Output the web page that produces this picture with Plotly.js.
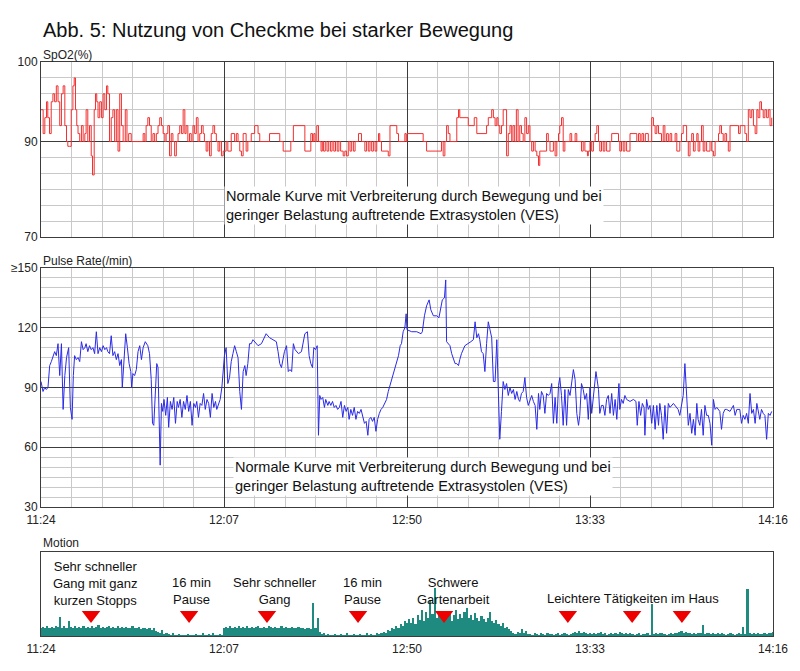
<!DOCTYPE html>
<html>
<head>
<meta charset="utf-8">
<script src="https://cdn.plot.ly/plotly-3.0.1.min.js"></script>
<style>html,body{margin:0;padding:0;background:#fff;}#chart{width:800px;height:671px;}</style>
</head>
<body>
<div id="chart"></div>
<script>
// ---- DATA (minutes after 11:24) ----
const timeTickMinutes = [0, 43, 86, 129, 172];
const timeTickLabels = ['11:24', '12:07', '12:50', '13:33', '14:16'];

const spo2TickValues = [70, 90, 100];
const spo2TickLabels = ['70', '90', '100'];
const pulseTickValues = [30, 60, 90, 120, 150];
const pulseTickLabels = ['30', '60', '90', '120', '≥150'];

const spo2Time = [
 0,0.5,0.9,1.3,1.6,2.0,2.4,2.8,3.2,3.6,
 4.0,4.4,4.8,5.2,5.6,6.0,6.3,6.7,7.1,7.5,
 7.8,8.1,8.4,8.7,9.1,9.5,9.9,10.3,10.6,11.0,
 11.4,11.8,12.1,12.5,12.8,13.1,13.4,13.8,14.2,14.6,
 15.0,15.4,15.7,16.1,16.5,16.9,17.3,17.7,18.1,18.5,
 18.9,19.3,19.8,20.2,20.6,21.2,24.0,24.4,24.7,25.1,
 25.5,25.9,26.3,26.7,27.1,27.5,27.9,28.3,28.7,29.1,
 29.4,29.8,30.2,30.6,31.0,31.4,31.8,32.2,32.6,33.0,
 33.4,33.8,34.1,34.5,34.9,35.3,35.7,36.1,36.5,36.9,
 37.3,37.7,38.1,38.4,38.8,39.2,39.6,40.0,40.4,40.8,
 41.2,41.6,42.0,42.4,42.8,43.5,43.9,44.7,45.5,45.9,
 46.3,46.7,47.1,47.5,48.2,48.6,49.4,50.2,51.0,51.4,
 53.7,56.1,56.9,58.7,59.3,62.0,63.4,63.8,64.1,64.4,
 64.8,65.2,65.8,66.1,66.4,66.8,67.2,67.6,68.0,68.4,
 68.8,69.2,69.6,70.0,70.4,71.0,71.4,71.8,72.2,72.6,
 73.0,73.4,73.8,74.6,75.3,76.1,76.5,76.9,77.3,77.7,
 78.1,78.5,78.9,79.3,79.6,80.0,81.6,82.0,83.6,84.0,
 85.5,85.8,86.0,89.8,90.6,94.1,94.5,94.9,95.3,95.7,
 96.1,97.7,98.1,98.4,100.4,101.8,102.4,104.7,105.1,105.9,
 106.3,106.7,107.1,107.4,107.8,108.2,108.6,109.4,109.8,110.2,
 110.6,110.9,111.3,111.7,112.1,112.5,112.9,113.3,113.7,114.1,
 114.5,114.9,115.3,115.7,116.1,116.5,116.9,117.2,118.8,119.2,
 119.6,120.4,120.8,121.2,121.6,121.9,122.3,122.7,123.1,124.3,
 124.7,125.5,125.9,127.0,127.4,127.8,128.4,128.6,129.0,129.4,
 129.8,130.2,130.6,131.0,131.3,131.7,132.1,132.5,132.9,133.7,
 134.1,135.7,136.0,136.4,136.8,137.2,137.6,138.4,140.0,140.4,
 140.8,141.2,141.6,142.0,142.7,143.5,143.9,144.3,144.7,145.1,
 145.8,146.2,146.6,147.0,147.4,147.8,148.2,149.0,149.4,150.1,
 150.5,150.9,151.7,152.1,152.5,152.9,153.3,153.7,154.1,154.4,
 154.8,155.2,155.6,156.0,156.4,157.2,157.6,158.0,158.4,159.2,
 159.5,159.9,160.3,160.7,161.1,161.5,161.9,163.9,164.3,165.4,
 165.8,166.2,166.6,167.0,167.4,167.8,168.2,168.5,168.9,169.3,
 169.7,170.1,170.5,170.9,171.3,171.7
];
const spo2Value = [
 94,91,93,95,93,91,95,96,95,97,
 95,92,96,97,92,90,89,89,94,97,
 98,94,92,91,90,92,90,91,94,90,
 92,87,83,94,96,95,93,95,93,96,
 94,97,96,90,93,94,90,94,88,96,
 92,90,94,90,91,90,91,90,92,93,
 92,90,91,90,91,92,93,92,91,90,
 91,92,87,91,90,87,90,91,92,91,
 94,91,92,90,91,90,92,91,93,90,
 91,92,91,90,88,90,87,91,92,91,
 90,88,90,87,88,90,88,91,90,91,
 90,88,87,91,88,90,91,92,91,90,
 91,90,88,90,92,88,91,90,91,90,
 92,90,88,90,88,90,88,90,88,90,
 88,90,88,90,88,87,88,87,90,88,
 90,88,90,91,90,88,90,88,90,88,
 90,88,90,91,90,88,87,92,91,90,
 91,90,91,90,88,90,87,90,92,91,
 90,93,94,93,92,93,91,92,93,94,
 93,92,93,92,91,92,94,87,91,92,
 90,92,90,94,90,92,91,90,93,91,
 92,90,88,90,88,87,85,88,91,90,
 88,90,87,90,91,92,93,88,90,91,
 90,91,90,88,90,88,87,88,90,88,
 90,91,92,90,88,90,88,90,88,90,
 91,90,88,90,88,90,88,91,90,91,
 90,91,90,91,90,93,92,91,92,91,
 90,92,90,91,90,91,90,91,88,90,
 91,92,90,87,90,91,88,90,91,88,
 90,92,88,90,88,90,88,87,90,91,
 92,91,90,91,90,88,92,91,92,91,
 90,94,93,94,92,91,94,93,95,94,
 93,94,93,94,92,93
];

const pulseTime = [
 0,0.47,0.86,1.25,1.64,2.04,2.43,2.82,3.21,3.6,
 4.0,4.4,4.8,5.2,5.6,6.0,6.5,6.9,7.3,7.6,
 7.9,8.3,8.7,9.1,9.5,9.9,10.3,10.6,11.0,11.4,
 11.8,12.2,12.6,13.0,13.4,13.8,14.2,14.6,15.0,15.4,
 15.7,16.1,16.5,16.9,17.3,17.7,18.1,18.5,18.9,19.1,
 19.5,19.9,20.3,20.7,21.1,21.3,21.6,22.0,22.4,22.8,
 23.2,23.6,24.0,24.5,25.1,25.5,25.9,26.2,26.5,26.9,
 27.2,27.5,27.8,28.0,28.3,28.6,28.9,29.3,29.7,30.0,
 30.4,30.8,31.2,31.6,32.0,32.3,32.7,33.1,33.5,33.9,
 34.3,34.7,35.1,35.5,35.9,36.3,36.6,37.0,37.4,37.8,
 38.2,38.6,39.0,39.4,39.8,40.2,40.6,41.0,41.3,41.7,
 42.1,42.5,42.8,43.1,43.5,43.9,44.3,44.7,45.1,45.5,
 45.9,46.3,46.7,47.1,47.5,47.9,48.2,48.6,49.0,49.4,
 49.8,50.2,51.0,51.8,52.5,52.9,53.7,54.5,55.3,55.7,
 56.1,56.5,57.2,57.7,58.1,58.5,58.9,59.3,59.7,60.5,
 61.2,62.0,62.6,63.0,63.4,63.8,64.1,64.5,64.9,65.2,
 65.5,65.8,66.2,66.6,66.9,67.4,67.7,68.1,68.5,68.9,
 69.3,69.7,70.1,70.5,70.9,71.3,71.7,72.1,72.4,72.8,
 73.2,73.6,74.0,74.4,74.8,75.2,75.6,76.0,76.4,76.8,
 77.1,77.5,77.9,78.3,78.7,79.1,79.5,79.9,80.3,80.7,
 81.2,81.6,82.0,82.4,82.8,83.2,83.6,84.0,84.4,84.7,
 85.1,85.5,85.8,86.0,87.1,88.3,89.3,89.6,90.1,90.6,
 91.2,91.6,92.2,93.0,93.5,93.9,94.3,94.8,95.1,95.3,
 95.7,96.1,96.5,96.9,97.3,97.7,98.1,98.4,98.8,99.6,
 100.4,101.0,101.6,102.0,102.4,102.8,103.1,103.5,103.9,104.3,
 104.7,105.1,105.5,105.9,106.3,106.7,107.1,107.4,107.8,108.2,
 108.6,109.0,109.4,109.8,110.2,110.6,111.0,111.4,111.8,112.2,
 112.5,112.9,113.3,113.7,114.1,114.5,114.9,115.3,115.7,116.1,
 116.5,116.9,117.2,117.6,118.0,118.4,118.8,119.2,119.6,120.0,
 120.4,120.8,121.2,121.6,121.9,122.3,122.7,123.1,123.5,123.9,
 124.3,124.7,125.1,125.5,125.9,126.3,126.6,127.0,127.4,127.8,
 128.2,128.6,129.0,129.4,129.8,130.4,131.0,131.3,131.7,132.1,
 132.5,132.9,133.3,133.7,134.1,134.5,134.9,135.3,135.8,136.0,
 136.4,136.8,137.2,137.6,138.4,139.2,139.8,140.1,140.5,140.9,
 141.3,141.7,141.9,142.3,142.7,143.1,143.5,143.9,144.3,144.7,
 145.1,145.4,145.8,146.2,146.6,147.0,147.4,147.8,148.6,149.4,
 149.7,150.1,150.5,150.9,151.3,151.7,152.1,152.5,152.9,153.3,
 153.7,154.1,154.4,154.8,155.2,155.6,156.0,156.4,156.8,157.2,
 157.6,158.0,158.4,158.8,159.5,159.9,160.3,160.7,161.1,161.9,
 162.7,163.1,163.5,164.2,164.6,165.0,165.4,165.8,166.2,166.6,
 167.0,167.4,167.8,168.2,168.5,168.9,169.3,169.7,170.1,170.5,
 170.9,171.3,171.7
];
const pulseRate = [
 93,88,90,89,90,101,103,106,108,106,
 112,96,112,79,96,105,110,80,74,96,
 106,104,105,103,113,109,110,112,108,111,
 109,110,107,118,107,110,108,111,109,110,
 108,107,116,106,108,104,107,101,104,90,
 105,117,110,102,98,90,97,96,99,108,
 111,104,110,113,111,107,94,72,71,90,
 102,100,60,51,82,78,84,76,85,70,
 83,79,85,72,83,80,84,75,83,79,
 86,78,83,71,82,80,83,75,82,81,
 87,79,84,82,75,87,80,83,79,82,
 84,90,97,106,110,92,95,103,107,111,
 108,105,88,79,98,101,96,102,112,112,
 114,113,111,112,115,117,115,114,113,108,
 102,100,108,111,98,99,98,112,109,107,
 108,117,118,106,102,100,110,109,111,66,
 86,84,85,80,84,81,83,81,83,80,
 81,79,80,83,75,81,78,80,74,79,
 76,80,74,78,77,79,76,72,73,66,
 74,75,73,75,68,74,77,79,80,82,
 84,88,91,95,98,101,103,106,111,112,
 118,120,127,119,118,118,117,118,126,131,
 134,129,126,126,125,130,134,135,144,113,
 112,111,107,104,102,102,101,104,107,111,
 112,113,114,123,115,117,114,108,107,98,
 112,123,119,115,93,93,114,92,64,78,
 93,89,92,86,90,87,89,84,88,84,
 83,87,88,95,85,81,84,86,83,81,
 69,87,79,88,86,77,87,86,87,92,
 72,85,72,91,95,86,71,89,71,89,
 86,92,99,94,77,71,76,92,89,84,
 87,74,90,77,86,98,89,77,81,81,
 76,84,86,77,87,76,84,74,92,79,
 84,82,86,84,83,84,83,71,83,76,
 82,80,66,84,79,81,72,81,69,81,
 71,82,76,64,81,67,82,80,82,80,
 79,76,81,86,102,89,71,77,67,74,
 66,82,74,71,79,66,81,76,76,72,
 61,84,79,80,78,69,77,79,79,78,
 81,76,79,79,72,76,74,77,72,87,
 77,79,72,82,79,74,79,77,76,64,
 77,76,78
];

// motion level (% of panel height), one value every half minute from 11:24
const motionStepMinutes = 0.5;
const motionLevel = [
 9,11,10,12,9,11,10,12,11,23,
 10,12,9,18,11,10,12,9,11,10,
 12,10,11,9,12,10,11,13,10,11,
 9,11,12,10,11,9,12,10,11,10,
 11,9,10,12,10,9,11,8,10,9,
 8,10,7,9,6,5,3,7,2,4,
 2,1,3,1,1,2,1,1,1,2,
 1,1,1,2,1,1,3,1,1,2,
 1,3,1,1,2,1,9,11,10,12,
 10,11,9,12,10,11,10,12,9,11,
 10,11,12,9,10,11,10,12,11,10,
 11,9,10,12,10,11,9,10,11,10,
 9,11,10,9,8,10,9,8,39,9,
 21,5,2,3,1,2,1,1,2,1,
 1,2,1,1,3,1,1,2,1,1,
 2,1,1,3,1,2,1,1,4,2,
 3,5,4,7,6,9,8,12,10,14,
 12,18,15,20,16,22,14,25,19,31,
 18,28,22,43,26,57,21,30,24,19,
 27,22,29,18,25,31,20,26,22,28,
 33,21,25,19,27,22,18,24,20,17,
 22,29,18,15,19,14,12,16,10,11,
 8,6,3,2,5,3,8,4,6,2,
 2,1,3,2,1,4,2,1,3,2,
 2,1,2,3,1,2,4,2,1,2,
 3,5,4,6,3,5,4,2,3,2,
 4,2,3,5,2,3,1,2,4,2,
 3,2,5,3,2,4,2,3,2,1,
 2,3,1,2,2,3,1,38,2,3,
 2,4,3,2,1,2,3,2,4,3,
 5,6,4,5,3,4,2,3,2,4,
 3,13,2,4,3,2,3,2,4,2,
 3,2,1,2,3,2,1,2,3,2,
 11,2,56,3,2,4,2,3,2,2,
 3,2,4,3,5
];

const activityLabels = [
 'Sehr schneller<br>Gang mit ganz<br>kurzen Stopps',
 '16 min<br>Pause',
 'Sehr schneller<br>Gang',
 '16 min<br>Pause',
 'Schwere<br>Gartenarbeit',
 'Leichtere Tätigkeiten im Haus'
];
const activityLabelTime = [12.8, 35.3, 55.0, 75.5, 97.0, 139.0];
const activityMarkerTime = [11.75, 34.8, 53.1, 74.5, 94.7, 123.8, 138.9, 150.6];
const activityMarkerLevel = [25, 25, 25, 25, 25, 25, 25, 25];

const noteText = 'Normale Kurve mit Verbreiterung durch Bewegung und bei<br>geringer Belastung auftretende Extrasystolen (VES)';

// ---- SpO2 axis: 90–100 occupies 5 grid steps, 70–90 occupies 6 grid steps ----
function spo2Scale(v) { return v >= 90 ? 6 + (v - 90) * 0.5 : (v - 70) * 0.3; }

const motionTime = motionLevel.map((_, i) => i * motionStepMinutes);

const H = 671, W = 800;
const pxY = p => 1 - p / H;
const LEFT = 41, RIGHT = 773;
const pxX = p => (p - LEFT) / (RIGHT - LEFT);

const majorGrid = '#3c3c3c';
const minorGrid = '#c9c9c9';
const frame = '#3c3c3c';

function xAxis(anchor, labels, grid) {
  return {
    domain: [0, 1], anchor: anchor, range: [0, 172],
    tickmode: 'array', tickvals: timeTickMinutes, ticktext: timeTickLabels,
    showticklabels: labels, ticks: '', ticklabelstandoff: 2,
    showgrid: grid, gridcolor: majorGrid, gridwidth: 1,
    minor: grid ? {tickmode: 'linear', tick0: 0, dtick: 43 / 6, showgrid: true, gridcolor: minorGrid, gridwidth: 1} : {showgrid: false},
    showline: true, mirror: true, linecolor: frame, linewidth: 1,
    zeroline: false, fixedrange: true,
    tickfont: {size: 12, color: '#222'}
  };
}

const data = [
  {
    type: 'scatter', mode: 'lines', x: spo2Time, y: spo2Value.map(spo2Scale),
    line: {color: '#f23030', width: 1, shape: 'hv'}, xaxis: 'x', yaxis: 'y', hoverinfo: 'skip'
  },
  {
    type: 'scatter', mode: 'lines', x: pulseTime, y: pulseRate,
    line: {color: '#2a2ae8', width: 1}, xaxis: 'x2', yaxis: 'y2', hoverinfo: 'skip'
  },
  {
    type: 'bar', x: motionTime, y: motionLevel, width: motionStepMinutes,
    marker: {color: '#1f8a7f', line: {width: 0}}, xaxis: 'x3', yaxis: 'y3', hoverinfo: 'skip'
  },
  {
    type: 'scatter', mode: 'markers', x: activityMarkerTime, y: activityMarkerLevel,
    marker: {symbol: 'triangle-down', size: 16, color: '#ee0000', line: {width: 0}},
    xaxis: 'x3', yaxis: 'y3', hoverinfo: 'skip', cliponaxis: false
  }
];

const annotations = [
  {text: 'SpO2(%)', xref: 'paper', yref: 'paper', x: 0, y: pxY(55), xanchor: 'left', yanchor: 'middle', showarrow: false, font: {size: 12, color: '#222'}},
  {text: 'Pulse Rate(/min)', xref: 'paper', yref: 'paper', x: 0, y: pxY(261), xanchor: 'left', yanchor: 'middle', showarrow: false, font: {size: 12, color: '#222'}},
  {text: 'Motion', xref: 'paper', yref: 'paper', x: 0, y: pxY(543), xanchor: 'left', yanchor: 'middle', showarrow: false, font: {size: 12, color: '#222'}},
  {text: noteText, xref: 'paper', yref: 'paper', x: pxX(224), y: pxY(205), xanchor: 'left', yanchor: 'middle', align: 'left', showarrow: false, bgcolor: '#ffffff', borderpad: 1, font: {size: 14.5, color: '#111'}},
  {text: noteText, xref: 'paper', yref: 'paper', x: pxX(233), y: pxY(476), xanchor: 'left', yanchor: 'middle', align: 'left', showarrow: false, bgcolor: '#ffffff', borderpad: 1, font: {size: 14.5, color: '#111'}}
];
const labelCentersPx = [583, 590.5, 590.5, 590.5, 590.5, 598];
activityLabels.forEach((t, i) => {
  annotations.push({text: t, xref: 'x3', yref: 'paper', x: activityLabelTime[i], y: pxY(labelCentersPx[i]),
    xanchor: 'center', yanchor: 'middle', align: 'center', showarrow: false, font: {size: 13, color: '#111'}});
});

const layout = {
  width: W, height: H,
  margin: {l: LEFT, r: W - RIGHT, t: 0, b: 0},
  paper_bgcolor: '#ffffff', plot_bgcolor: '#ffffff',
  showlegend: false, bargap: 0,
  font: {family: 'Arial, "Liberation Sans", sans-serif', size: 12, color: '#222'},
  title: {text: 'Abb. 5: Nutzung von Checkme bei starker Bewegung', x: 43 / W, xanchor: 'left', xref: 'container',
          y: 1 - 30 / H, yanchor: 'middle', yref: 'container', font: {size: 20, color: '#111'}},
  xaxis: xAxis('y', false, true),
  xaxis2: xAxis('y2', true, true),
  xaxis3: xAxis('y3', true, false),
  yaxis: {
    domain: [pxY(237), pxY(62)], range: [0, 11], anchor: 'x',
    tickmode: 'array', tickvals: spo2TickValues.map(spo2Scale), ticktext: spo2TickLabels, ticks: '',
    showgrid: true, gridcolor: majorGrid, gridwidth: 1,
    minor: {tickmode: 'linear', tick0: 0, dtick: 1, showgrid: true, gridcolor: minorGrid, gridwidth: 1},
    showline: true, mirror: true, linecolor: frame, zeroline: false, fixedrange: true,
    tickfont: {size: 12, color: '#222'}
  },
  yaxis2: {
    domain: [pxY(507), pxY(268)], range: [30, 150], anchor: 'x2',
    tickmode: 'array', tickvals: pulseTickValues, ticktext: pulseTickLabels, ticks: '',
    showgrid: true, gridcolor: majorGrid, gridwidth: 1,
    minor: {tickmode: 'linear', tick0: 30, dtick: 5, showgrid: true, gridcolor: minorGrid, gridwidth: 1},
    showline: true, mirror: true, linecolor: frame, zeroline: false, fixedrange: true,
    tickfont: {size: 12, color: '#222'}
  },
  yaxis3: {
    domain: [pxY(636), pxY(552)], range: [0, 100], anchor: 'x3',
    showticklabels: false, ticks: '', showgrid: false,
    showline: true, mirror: true, linecolor: frame, zeroline: false, fixedrange: true
  },
  annotations: annotations
};

Plotly.newPlot('chart', data, layout, {displayModeBar: false, staticPlot: true});
</script>
</body>
</html>
